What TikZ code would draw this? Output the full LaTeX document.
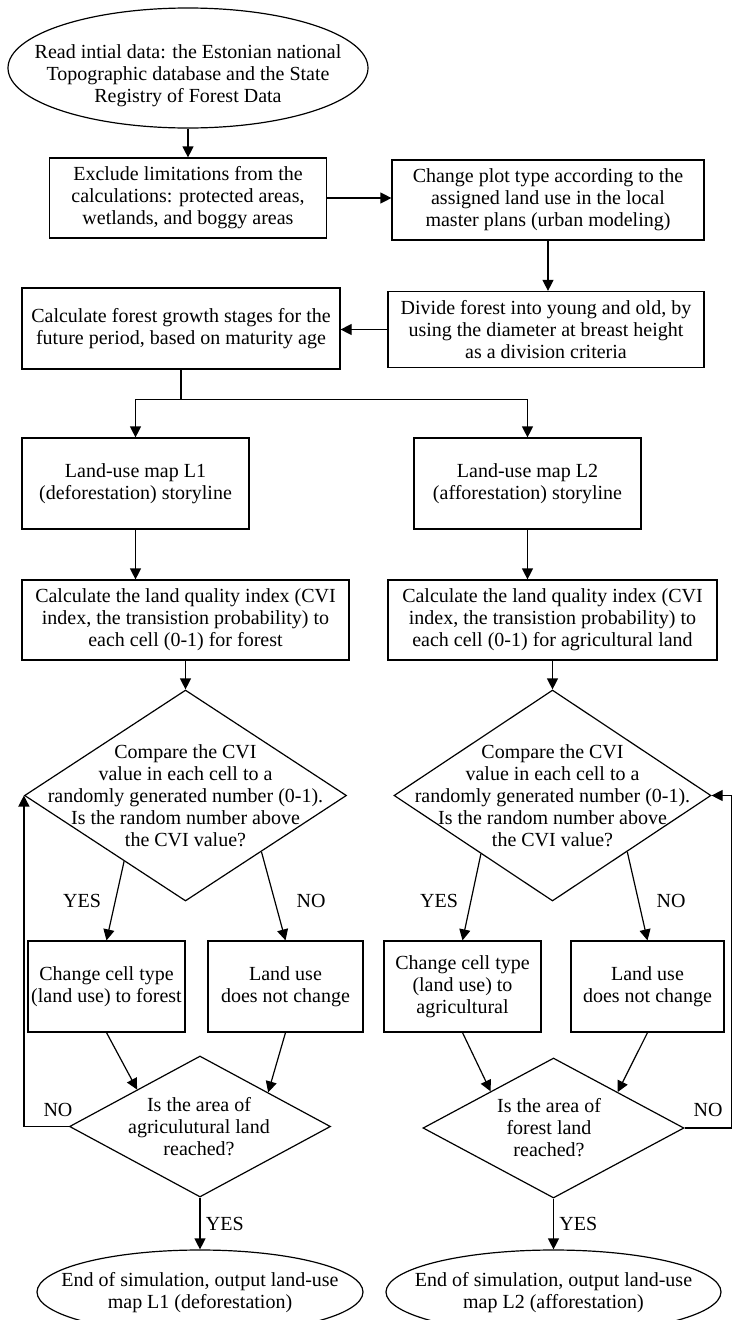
\documentclass[tikz,border=0pt]{standalone}
\usepackage{fontspec}
\setmainfont{Liberation Serif}
\usetikzlibrary{shapes.geometric,arrows.meta,calc}

\begin{document}
\begin{tikzpicture}[x=1pt, y=-1pt, line width=1.2pt,
    font=\fontsize{20}{22}\selectfont,
    >={Triangle[length=11pt,width=11pt]},
    box/.style={draw, align=center, inner sep=2pt},
    terminal/.style={draw, ellipse, inner sep=0pt},
    decision/.style={draw, diamond, inner sep=0pt},
    txt/.style={align=center, inner sep=0pt}]
    \useasboundingbox (0,0) rectangle (734,1320);

    % start and preparation
    \node[terminal, minimum width=360pt, minimum height=120pt] (start) at (188,68) {};
    \node[txt] (starttxt) at (188,76) {Read intial data: the Estonian national\\Topographic database and the State\\Registry of Forest Data};
    \node[box, minimum width=277pt, minimum height=80pt] (excl) at (188,198) {Exclude limitations from the\\calculations: protected areas,\\wetlands, and boggy areas};
    \node[box, minimum width=312pt, minimum height=80pt] (plot) at (548,200) {Change plot type according to the\\assigned land use in the local\\master plans (urban modeling)};
    \node[box, minimum width=316pt, minimum height=76pt] (divide) at (546,329.5) {Divide forest into young and old, by\\using the diameter at breast height\\as a division criteria};
    \node[box, minimum width=318pt, minimum height=81pt] (growth) at (181,328.5) {Calculate forest growth stages for the\\future period, based on maturity age};

    % storylines
    \node[box, minimum width=227pt, minimum height=91pt] (map1) at (135.5,483.5) {Land-use map L1\\(deforestation) storyline};
    \node[box, minimum width=227pt, minimum height=91pt] (map2) at (527.5,483.5) {Land-use map L2\\(afforestation) storyline};
    \node[box, minimum width=327pt, minimum height=80pt] (calc1) at (185.5,620) {Calculate the land quality index (CVI\\index, the transistion probability) to\\each cell (0-1) for forest};
    \node[box, minimum width=329pt, minimum height=80pt] (calc2) at (552.5,620) {Calculate the land quality index (CVI\\index, the transistion probability) to\\each cell (0-1) for agricultural land};

    % comparison
    \node[decision, minimum width=322pt, minimum height=211pt] (d1) at (185.5,795.5) {};
    \node[txt] (d1txt) at (d1) {Compare the CVI\\value in each cell to a\\randomly generated number (0-1).\\Is the random number above\\the CVI value?};
    \node[decision, minimum width=317pt, minimum height=211pt] (d2) at (552.5,795.5) {};
    \node[txt] (d2txt) at (d2) {Compare the CVI\\value in each cell to a\\randomly generated number (0-1).\\Is the random number above\\the CVI value?};

    \node[box, minimum width=157pt, minimum height=91pt] (yes1) at (106.5,986.5) {Change cell type\\(land use) to forest};
    \node[box, minimum width=155pt, minimum height=91pt] (no1) at (285.5,986.5) {Land use\\does not change};
    \node[box, minimum width=157pt, minimum height=91pt] (yes2) at (462.5,986.5) {Change cell type\\(land use) to\\agricultural};
    \node[box, minimum width=153pt, minimum height=91pt] (no2) at (647.5,986.5) {Land use\\does not change};

    % area reached?
    \node[decision, minimum width=261pt, minimum height=141pt] (d1b) at (200,1126.5) {};
    \node[txt] (d1btxt) at (199,1127) {Is the area of\\agriculutural land\\reached?};
    \node[decision, minimum width=261pt, minimum height=140pt] (d2b) at (553.5,1128) {};
    \node[txt] (d2btxt) at (549,1128) {Is the area of\\forest land\\reached?};

    \node[terminal, minimum width=326pt, minimum height=84pt] (end1) at (200,1292) {};
    \node[txt] (end1txt) at (200,1293) {End of simulation, output land-use\\map L1 (deforestation)};
    \node[terminal, minimum width=335pt, minimum height=84pt] (end2) at (553.5,1292) {};
    \node[txt] (end2txt) at (553.5,1293) {End of simulation, output land-use\\map L2 (afforestation)};

    % answers
    \node (yeslbl1) at (82,901) {YES};
    \node (nolbl1) at (311,901) {NO};
    \node (yeslbl2) at (439,901) {YES};
    \node (nolbl2) at (671,901) {NO};
    \node (noloop1) at (58,1110) {NO};
    \node (noloop2) at (708,1110) {NO};

    \draw[->] (start.south) -- (excl.north);
    \draw[->] (excl.east) -- (excl.east -| plot.west);
    \draw[->] (plot.south) -- (plot.south |- divide.north);
    \draw[->] (divide.west) -- (divide.west -| growth.east);
    \draw (growth.south) -- ++(0,30) coordinate (split);
    \draw[->] (split) -| (map1.north);
    \draw[->] (split) -| (map2.north);
    \draw[->] (map1.south) -- (map1.south |- calc1.north);
    \draw[->] (map2.south) -- (map2.south |- calc2.north);
    \draw[->] (calc1.south) -- (d1.north);
    \draw[->] (calc2.south) -- (d2.north);

    \draw[->] ($(d1.west)!0.62!(d1.south)$) -- (yes1.north);
    \draw[->] ($(d1.east)!0.53!(d1.south)$) -- (no1.north);
    \draw[->] ($(d2.west)!0.55!(d2.south)$) -- (yes2.north);
    \draw[->] ($(d2.east)!0.53!(d2.south)$) -- (no2.north);

    \draw[->] (yes1.south) -- ($(d1b.west)!0.52!(d1b.north)$);
    \draw[->] (no1.south) -- ($(d1b.east)!0.48!(d1b.north)$);
    \draw[->] (yes2.south) -- ($(d2b.west)!0.52!(d2b.north)$);
    \draw[->] (no2.south) -- ($(d2b.east)!0.51!(d2b.north)$);

    \draw[->] (d1b.west) -| (d1.west);
    \draw[->] (d2b.east) -| ($(d2.east)+(20,0)$) |- (d2.east);

    \draw[->] (d1b.south) -- (end1.north) node[midway, right=2pt] (yesend1) {YES};
    \draw[->] (d2b.south) -- (end2.north) node[midway, right=2pt] (yesend2) {YES};
\end{tikzpicture}
\end{document}
